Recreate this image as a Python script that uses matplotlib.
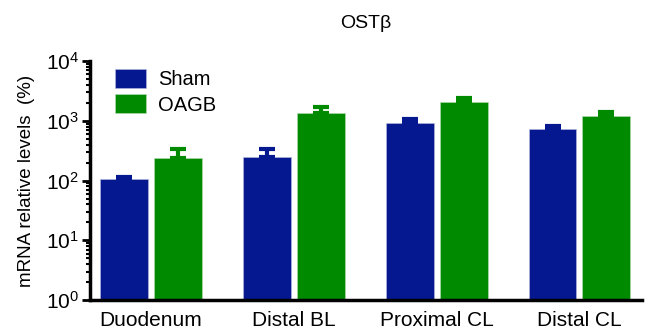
import matplotlib
matplotlib.use('Agg')
import matplotlib.pyplot as plt
import numpy as np

plt.rcParams['font.family'] = ['Liberation Sans', 'DejaVu Sans']
plt.rcParams['mathtext.default'] = 'regular'

sites = ['Duodenum', 'Distal BL', 'Proximal CL', 'Distal CL']
sham = [105, 250, 925, 720]
sham_err = [11, 90, 145, 88]
oagb = [240, 1350, 2110, 1200]
oagb_err = [100, 330, 300, 200]

blue = '#05188f'
green = '#008a00'

fig = plt.figure(figsize=(6.53, 3.36), dpi=100)
ax = fig.add_axes([0.138, 0.107, 0.845, 0.711])

x = np.arange(len(sites))
w = 0.336
off = 0.189
ax.bar(x - off, sham, w, color=blue, label='Sham', edgecolor='#b8bce0', linewidth=0.4,
       yerr=[np.zeros(4), sham_err], error_kw=dict(ecolor=blue, elinewidth=3, capsize=6, capthick=3))
ax.bar(x + off, oagb, w, color=green, label='OAGB', edgecolor='#b8dcb8', linewidth=0.4,
       yerr=[np.zeros(4), oagb_err], error_kw=dict(ecolor=green, elinewidth=3, capsize=6, capthick=3))

ax.set_yscale('log')
ax.set_ylim(1, 1e4)
ax.set_xlim(-0.427, 3.437)
ax.set_xticks(x)
ax.set_xticklabels(sites, fontsize=15)
ax.tick_params(axis='x', length=0, pad=8)
ax.tick_params(axis='y', which='major', length=6, width=2, labelsize=15, pad=2)
ax.tick_params(axis='y', which='minor', length=3, width=1.5)

for s in ['top', 'right']:
    ax.spines[s].set_visible(False)
for s in ['left', 'bottom']:
    ax.spines[s].set_linewidth(2.5)

ax.set_ylabel('mRNA relative levels  (%)', fontsize=13.5, labelpad=8)
ax.set_title('OST\u03b2', fontsize=14, pad=24)

ax.legend(loc='upper left', frameon=False, fontsize=14.5, handlelength=1.55, handleheight=1.05,
          handletextpad=0.6, labelspacing=0.25, borderaxespad=0.0, bbox_to_anchor=(0.03, 1.0))

fig.savefig('out.png', dpi=100)
plt.close()
